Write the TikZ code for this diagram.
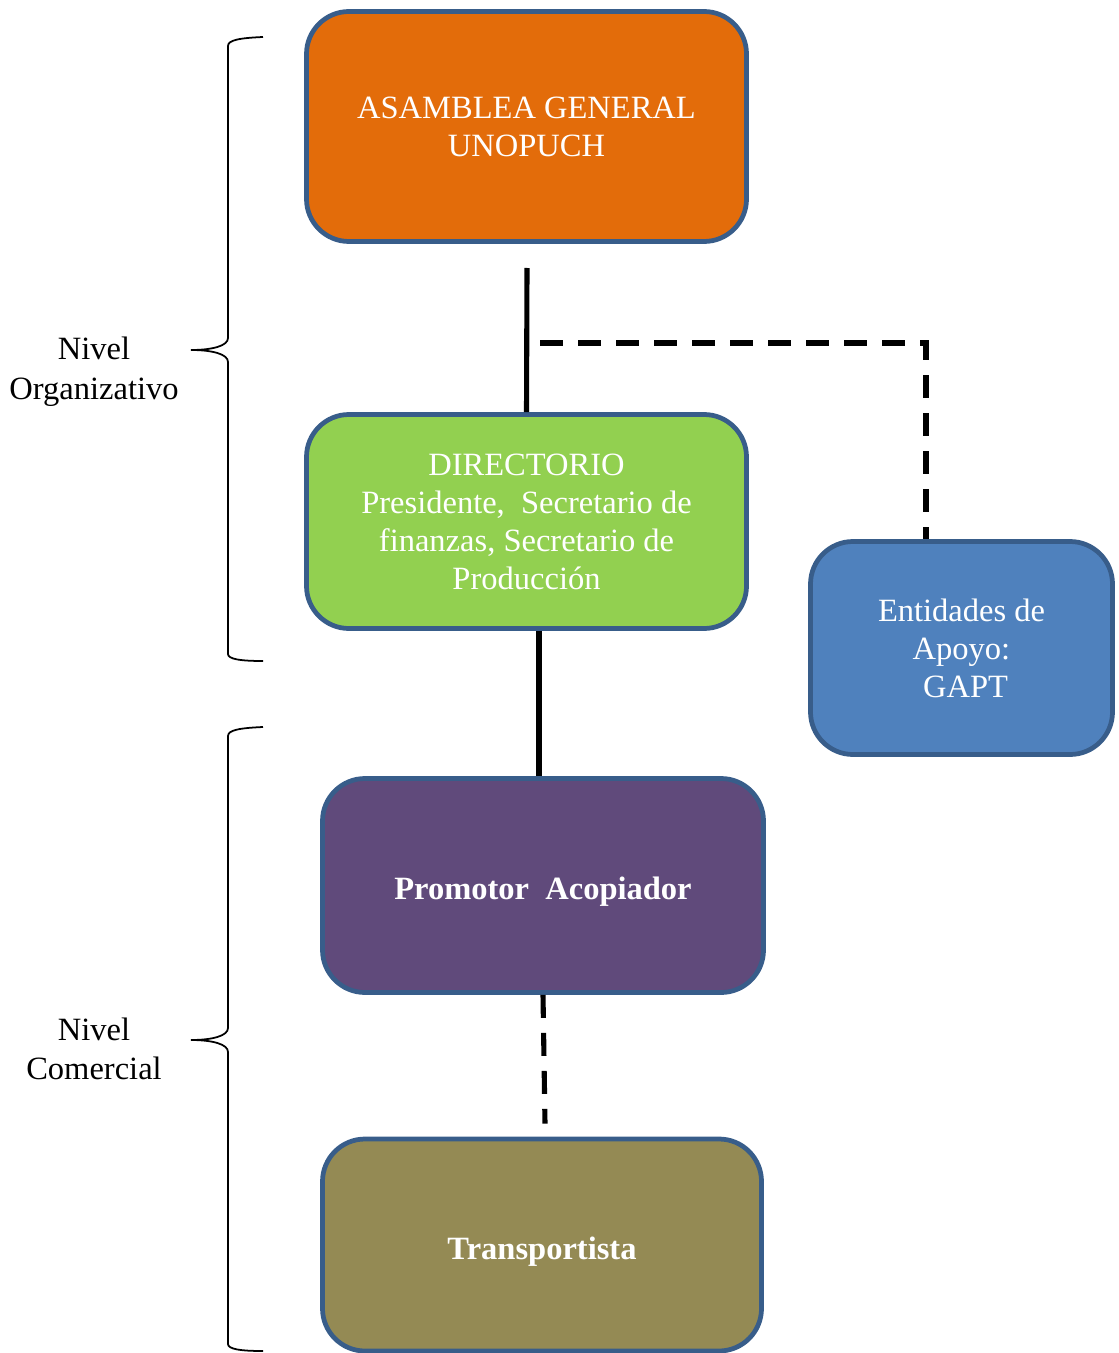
\documentclass[tikz,border=0pt]{standalone}
\usepackage{fontspec}
\setmainfont{Liberation Serif}
\definecolor{asamblea}{HTML}{E36C0A}
\definecolor{directorio}{HTML}{92D050}
\definecolor{apoyo}{HTML}{4F81BD}
\definecolor{promotor}{HTML}{604A7B}
\definecolor{transporte}{HTML}{948A54}
\definecolor{borde}{HTML}{385D8A}
\tikzset{
    orgbox/.style={rectangle, rounded corners=8.5mm, draw=borde, line width=2.7pt,
        text=white, align=center, inner sep=0pt,
        font=\fontsize{18.5}{21.6}\selectfont},
    boldbox/.style={orgbox, font=\fontsize{18.5}{21.6}\selectfont\bfseries},
    link/.style={line width=2.9pt},
    dashlink/.style={line width=2.9pt, dash pattern=on 4.6mm off 3mm},
    brace/.style={line width=1pt},
    level/.style={align=center, font=\fontsize{18.5}{22.6}\selectfont}
}
\begin{document}
\begin{tikzpicture}[x=0.2mm, y=-0.2mm]
    \useasboundingbox (0,0) rectangle (1118,1353);
    % cajas
    \node[orgbox, fill=asamblea, minimum width=8.8cm, minimum height=4.6cm] (asmb) at (526.5,126.5) {ASAMBLEA GENERAL\\UNOPUCH};
    \node[orgbox, fill=directorio, minimum width=8.8cm, minimum height=4.28cm] (dir) at (526.5,521.5) {DIRECTORIO\\Presidente,\ \ Secretario de\\finanzas, Secretario de\\Producción};
    \node[orgbox, fill=apoyo, minimum width=6.04cm, minimum height=4.26cm] (ent) at (961.5,648) {Entidades de\\Apoyo:\\\ GAPT};
    \node[boldbox, fill=promotor, minimum width=8.82cm, minimum height=4.28cm] (prom) at (543,885.5) {\rule{0pt}{7mm}Promotor\ \ Acopiador};
    \node[boldbox, fill=transporte, minimum width=8.78cm, minimum height=4.24cm] (trans) at (542,1245) {\rule{0pt}{7mm}Transportista};
    % conexiones
    \coordinate (asmb-end) at (527,268);
    \coordinate (dash-start) at (540,343);
    \draw[link] (asmb-end) -- (dir.north);
    \draw[dashlink] (dash-start) -| ([xshift=-7.1mm]ent.north);
    \draw[link] ([xshift=-0.8mm]dir.south -| prom.north) -- ([xshift=-0.8mm]prom.north);
    \draw[dashlink] (prom.south) -- ([xshift=0.6mm,yshift=2.6mm]trans.north);
    % niveles
    \draw[brace] (263,37) .. controls (240,38) and (228,40) .. (228,46) -- (228,338)
        .. controls (228,346) and (212,350) .. (191,350)
        .. controls (212,350) and (228,354) .. (228,362) -- (228,654)
        .. controls (228,659) and (240,661) .. (263,661);
    \draw[brace] (263,727) .. controls (240,728) and (228,730) .. (228,736) -- (228,1028)
        .. controls (228,1036) and (212,1040) .. (191,1040)
        .. controls (212,1040) and (228,1044) .. (228,1052) -- (228,1344)
        .. controls (228,1349) and (240,1351) .. (263,1351);
    \node[level] (lvl-org) at (94,372) {Nivel\\Organizativo};
    \node[level] (lvl-com) at (94,1049) {Nivel\\Comercial};
\end{tikzpicture}
\end{document}
